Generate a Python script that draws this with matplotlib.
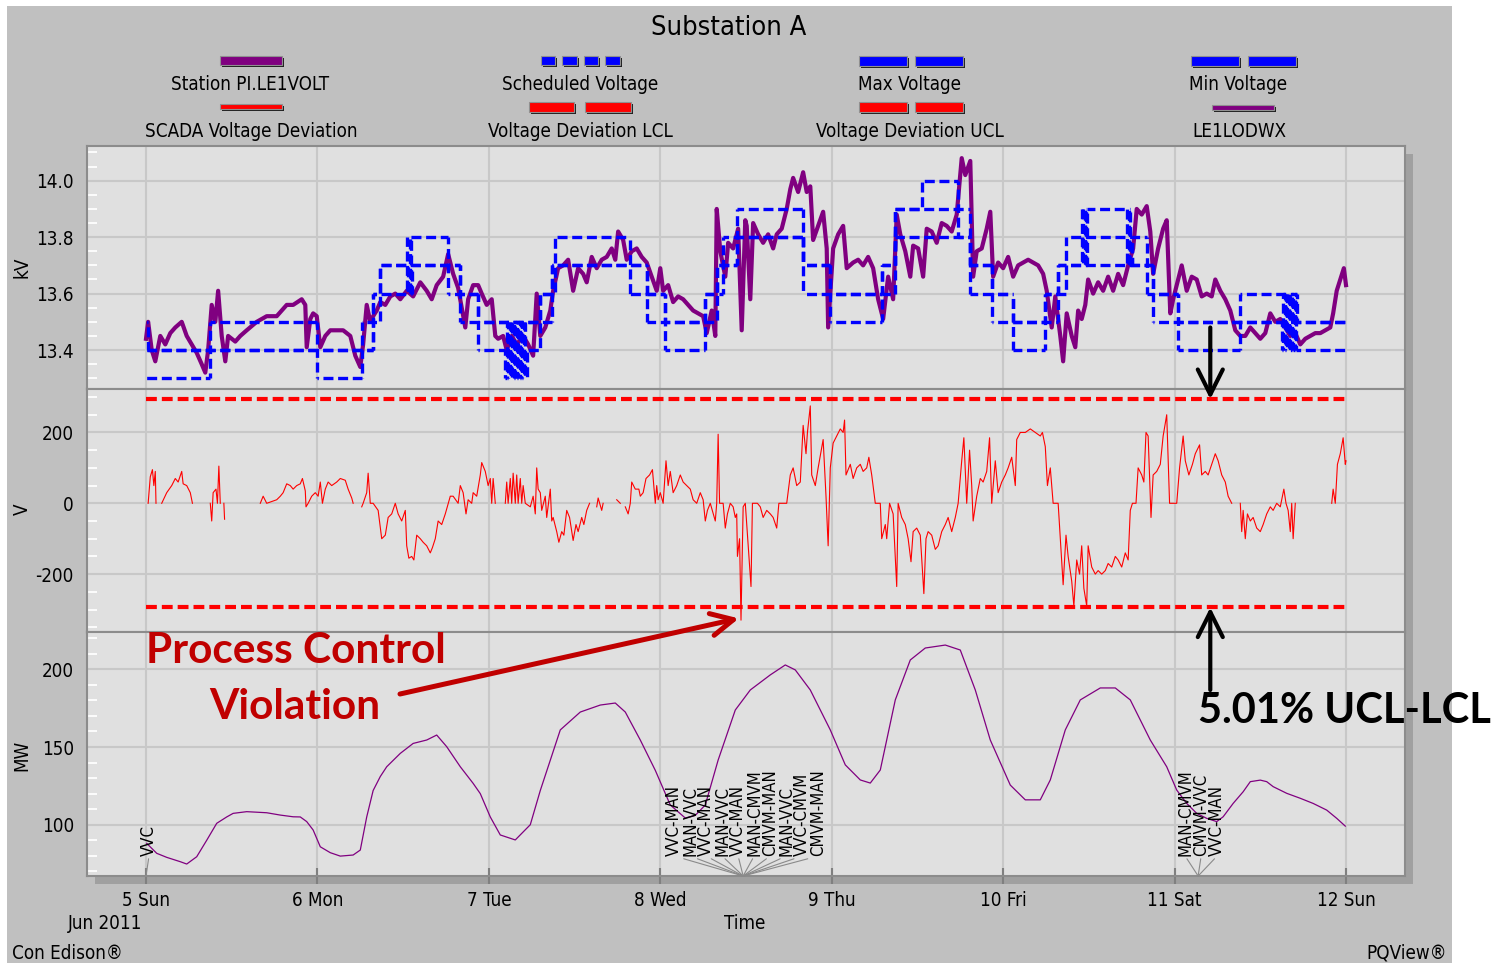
import numpy as np
import matplotlib
matplotlib.use('Agg')
import matplotlib.pyplot as plt
from matplotlib.patches import Rectangle
from matplotlib.collections import LineCollection
from matplotlib.ticker import MultipleLocator, FormatStrFormatter

plt.rcParams['font.family'] = 'DejaVu Sans'
plt.rcParams['font.stretch'] = 'condensed'
plt.rcParams['axes.unicode_minus'] = False

nan = np.nan
W, H = 1493, 963

# all series: (hours after 5 Jun 2011 00:00, value)
station_volt = [
    (0.0, 13.44), (0.3, 13.50), (0.8, 13.40), (1.3, 13.36), (2.0, 13.45), (2.7, 13.42),
    (3.4, 13.46), (4.1, 13.48), (5.0, 13.50), (5.7, 13.45), (6.4, 13.42), (7.1, 13.39),
    (7.8, 13.35), (8.3, 13.32), (8.7, 13.40), (9.2, 13.56), (9.7, 13.50), (10.1, 13.61),
    (10.6, 13.45), (11.1, 13.36), (11.5, 13.45), (12.5, 13.43), (13.2, 13.45), (14.1, 13.47),
    (15.5, 13.50), (16.9, 13.52), (18.3, 13.52), (19.7, 13.56), (20.6, 13.56), (21.8, 13.58),
    (22.3, 13.56), (22.5, 13.41), (23.0, 13.51), (23.4, 13.53), (23.9, 13.52), (24.4, 13.41),
    (25.1, 13.45), (25.8, 13.47), (26.7, 13.47), (27.6, 13.47), (28.6, 13.45), (29.3, 13.38),
    (30.0, 13.34), (30.4, 13.42), (30.9, 13.56), (31.4, 13.50), (31.8, 13.52), (32.3, 13.54),
    (32.8, 13.57), (33.5, 13.56), (34.2, 13.59), (34.9, 13.60), (35.6, 13.58), (36.5, 13.61),
    (37.4, 13.59), (38.4, 13.64), (39.3, 13.61), (40.0, 13.58), (40.7, 13.63), (41.6, 13.66),
    (42.3, 13.74), (43.0, 13.67), (43.7, 13.62), (44.2, 13.55), (44.7, 13.48), (45.1, 13.58),
    (45.8, 13.63), (46.5, 13.63), (47.0, 13.60), (47.7, 13.56), (48.4, 13.58), (48.9, 13.45),
    (49.3, 13.44), (50.0, 13.45), (50.5, 13.40), (51.2, 13.45), (51.9, 13.42), (52.8, 13.45),
    (53.5, 13.42), (54.2, 13.38), (54.7, 13.60), (55.2, 13.45), (55.9, 13.48), (56.6, 13.54),
    (57.0, 13.61), (57.7, 13.69), (58.4, 13.70), (59.1, 13.72), (59.8, 13.61), (60.5, 13.69),
    (61.2, 13.67), (61.7, 13.64), (62.4, 13.73), (63.1, 13.69), (63.8, 13.72), (64.5, 13.73),
    (65.2, 13.76), (65.7, 13.72), (66.1, 13.82), (66.8, 13.79), (67.3, 13.72), (68.0, 13.75),
    (68.7, 13.76), (69.4, 13.73), (70.1, 13.71), (70.8, 13.66), (71.5, 13.61), (72.0, 13.69),
    (72.4, 13.61), (73.1, 13.63), (73.8, 13.57), (74.5, 13.59), (75.2, 13.58), (75.9, 13.56),
    (76.6, 13.54), (77.3, 13.53), (78.0, 13.52), (78.5, 13.46), (79.2, 13.54), (79.7, 13.45),
    (79.9, 13.90), (80.4, 13.75), (81.1, 13.66), (81.5, 13.78), (82.2, 13.76), (82.9, 13.83),
    (83.4, 13.47), (83.9, 13.86), (84.1, 13.84), (84.6, 13.58), (85.0, 13.85), (85.7, 13.81),
    (86.4, 13.78), (87.1, 13.81), (87.8, 13.76), (88.3, 13.81), (89.0, 13.83), (89.7, 13.90),
    (90.2, 13.97), (90.6, 14.01), (91.3, 13.96), (92.0, 14.03), (92.5, 13.96), (93.0, 13.98),
    (93.4, 13.79), (94.1, 13.84), (94.8, 13.89), (95.3, 13.76), (95.5, 13.48), (96.2, 13.76),
    (96.9, 13.81), (97.6, 13.84), (98.1, 13.69), (99.0, 13.71), (99.7, 13.72), (100.4, 13.70),
    (101.1, 13.73), (101.8, 13.69), (102.5, 13.58), (103.2, 13.51), (103.9, 13.66), (104.6, 13.58),
    (105.1, 13.88), (105.6, 13.81), (106.3, 13.75), (107.0, 13.66), (107.4, 13.77), (108.1, 13.76),
    (108.8, 13.66), (109.3, 13.83), (110.0, 13.82), (110.7, 13.78), (111.4, 13.85), (112.1, 13.84),
    (112.8, 13.82), (113.5, 13.88), (114.2, 14.08), (114.7, 14.02), (115.4, 14.07), (115.8, 13.66),
    (116.3, 13.75), (117.0, 13.76), (117.7, 13.83), (118.2, 13.89), (118.6, 13.66), (119.3, 13.71),
    (120.0, 13.69), (120.7, 13.73), (121.4, 13.66), (122.1, 13.70), (122.8, 13.71), (123.5, 13.72),
    (124.2, 13.71), (124.9, 13.70), (125.6, 13.67), (126.1, 13.61), (126.8, 13.48), (127.3, 13.59),
    (128.0, 13.45), (128.4, 13.36), (128.9, 13.53), (129.6, 13.45), (130.1, 13.41), (130.5, 13.54),
    (131.0, 13.51), (131.5, 13.56), (131.9, 13.65), (132.6, 13.60), (133.3, 13.64), (134.0, 13.61),
    (134.7, 13.66), (135.4, 13.61), (136.1, 13.67), (136.8, 13.63), (137.5, 13.70), (138.2, 13.76),
    (138.7, 13.90), (139.4, 13.88), (140.1, 13.91), (140.6, 13.82), (141.0, 13.67), (141.7, 13.76),
    (142.4, 13.83), (142.9, 13.86), (143.4, 13.53), (143.8, 13.58), (144.3, 13.63), (145.0, 13.70),
    (145.7, 13.61), (146.4, 13.66), (147.1, 13.65), (147.8, 13.59), (148.5, 13.60), (149.2, 13.59),
    (149.7, 13.65), (150.4, 13.61), (151.1, 13.58), (151.8, 13.54), (152.5, 13.47), (153.2, 13.45),
    (153.9, 13.45), (154.6, 13.48), (155.3, 13.46), (156.0, 13.44), (156.7, 13.46), (157.4, 13.53),
    (158.1, 13.50), (158.8, 13.51), (159.5, 13.48), (160.2, 13.45), (160.9, 13.46), (161.6, 13.42),
    (162.3, 13.44), (163.0, 13.45), (163.7, 13.46), (164.4, 13.46), (165.1, 13.47), (165.8, 13.48),
    (166.2, 13.53), (166.7, 13.61), (167.2, 13.65), (167.7, 13.69), (168.0, 13.63),
]

# step values, each held until the next entry
sched_volt = [
    (0.0, 13.4), (31.8, 13.6), (32.8, 13.7), (44.0, 13.6), (46.5, 13.5), (55.2, 13.6),
    (56.8, 13.7), (70.1, 13.6), (72.7, 13.5), (78.3, 13.6), (79.9, 13.7), (82.7, 13.8),
    (92.0, 13.7), (95.8, 13.6), (103.0, 13.7), (104.9, 13.9), (113.7, 13.8), (115.4, 13.7),
    (118.4, 13.6), (121.4, 13.5), (125.9, 13.6), (127.7, 13.7), (131.0, 13.8), (138.0, 13.7),
    (141.0, 13.6), (144.5, 13.5), (168.0, 13.5),
]
max_volt = [
    (0.0, 13.5), (0.3, 13.4), (9.0, 13.5), (23.9, 13.4), (30.2, 13.5), (31.8, 13.6),
    (32.8, 13.7), (36.5, 13.8), (42.3, 13.7), (44.0, 13.6), (46.5, 13.5), (55.2, 13.6),
    (56.8, 13.7), (57.3, 13.8), (67.8, 13.7), (70.1, 13.6), (72.7, 13.5), (78.3, 13.6),
    (79.9, 13.7), (80.8, 13.8), (82.7, 13.9), (92.0, 13.7), (95.8, 13.6), (103.0, 13.7),
    (104.9, 13.9), (108.6, 14.0), (113.7, 13.9), (115.4, 13.7), (118.4, 13.6), (121.4, 13.5),
    (125.9, 13.6), (127.7, 13.7), (128.8, 13.8), (131.0, 13.9), (131.2, 13.7), (131.4, 13.9),
    (131.6, 13.7), (131.8, 13.9), (137.4, 13.7), (137.6, 13.9), (137.8, 13.7), (138.0, 13.8),
    (140.1, 13.7), (141.0, 13.6), (144.5, 13.5), (153.2, 13.6), (161.1, 13.5), (168.0, 13.5),
]
min_volt = [
    (0.0, 13.3), (9.0, 13.4), (23.9, 13.3), (30.2, 13.4), (31.8, 13.5), (32.8, 13.6),
    (36.5, 13.7), (36.7, 13.6), (36.9, 13.8), (37.1, 13.6), (37.3, 13.7), (42.3, 13.6),
    (44.0, 13.5), (46.5, 13.4), (50.3, 13.3), (50.5, 13.5), (50.7, 13.3), (50.9, 13.5),
    (51.1, 13.3), (51.3, 13.5), (51.5, 13.3), (51.7, 13.5), (51.9, 13.3), (52.1, 13.5),
    (52.3, 13.3), (52.5, 13.5), (52.7, 13.3), (52.9, 13.5), (53.1, 13.3), (53.3, 13.4),
    (55.2, 13.5), (56.8, 13.6), (57.3, 13.7), (67.8, 13.6), (70.1, 13.5), (72.7, 13.4),
    (78.3, 13.5), (79.9, 13.6), (80.8, 13.7), (82.7, 13.8), (92.0, 13.6), (95.8, 13.5),
    (103.0, 13.6), (104.9, 13.8), (115.4, 13.6), (118.4, 13.5), (121.4, 13.4), (125.9, 13.5),
    (127.7, 13.6), (128.8, 13.7), (140.1, 13.6), (141.0, 13.5), (144.5, 13.4), (153.2, 13.5),
    (159.0, 13.4), (159.2, 13.6), (159.4, 13.4), (159.6, 13.6), (159.8, 13.4), (160.0, 13.6),
    (160.2, 13.4), (160.4, 13.6), (160.6, 13.4), (160.8, 13.6), (161.0, 13.4), (168.0, 13.4),
]

# SCADA voltage deviation (V); nan marks missing data
scada_dev = [
    (0.3, 0), (0.6, 75), (0.9, 95), (1.1, 50), (1.3, 90), (1.4, 0), (1.8, nan),
    (2.2, 0), (2.9, 30), (3.6, 50), (4.1, 70), (4.5, 60), (5.0, 90), (5.2, 55), (5.7, 50),
    (6.2, 30), (6.5, 0), (7.5, nan),
    (9.0, 0), (9.2, -50), (9.4, 30), (9.8, 40), (10.0, 0), (10.2, 105), (10.4, 0), (10.6, nan),
    (10.9, 0), (11.0, -45), (11.1, nan),
    (16.0, 0), (16.4, 20), (16.9, 0), (17.6, 5), (18.3, 10), (18.8, 20), (19.2, 30), (19.7, 55),
    (20.2, 50), (20.6, 40), (21.1, 50), (21.6, 55), (21.9, 70), (22.3, 35), (22.4, -10),
    (22.7, 0), (23.2, 20), (23.7, 30), (24.1, 20), (24.4, 60), (24.7, 0), (25.1, 40), (25.5, 60),
    (26.0, 50), (26.7, 60), (27.2, 70), (27.9, 65), (28.3, 40), (28.8, 15), (29.0, 0), (29.5, nan),
    (30.2, -10), (30.4, 0), (30.9, 30), (31.1, 85), (31.4, 0), (31.8, 0), (32.5, -20),
    (33.0, -100), (33.5, -90), (33.9, -40), (34.4, -30), (34.9, 0), (35.3, -30), (35.8, -50),
    (36.3, -20), (36.5, -120), (36.8, -155), (37.2, -150), (37.5, -160), (37.9, -90),
    (38.4, -100), (38.8, -110), (39.3, -120), (39.8, -140), (40.1, -125), (40.5, -100),
    (40.9, -50), (41.4, -60), (41.9, -30), (42.6, 20), (43.0, 20), (43.7, 0), (44.0, 50),
    (44.4, 30), (44.8, -30), (45.1, 10), (45.6, 0), (45.8, 30), (46.3, 20), (46.8, 80),
    (47.0, 115), (47.5, 90), (47.9, 50), (48.2, 70), (48.4, 0), (48.6, 70), (48.9, 0), (49.5, nan),
    (50.3, 0), (50.5, 60), (50.7, 0), (51.0, 70), (51.2, 0), (51.4, 85), (51.7, 0), (51.9, 80),
    (52.1, 0), (52.4, 70), (52.6, 0), (52.8, 50), (53.1, 0), (53.8, -10), (54.2, 20),
    (54.5, -30), (54.7, 100), (54.9, 40), (55.2, 30), (55.4, -20), (55.9, 20), (56.1, -40),
    (56.6, 40), (56.8, -50), (57.0, -40), (57.5, -80), (57.8, -110), (58.2, -80), (58.5, -90),
    (58.9, -20), (59.3, -40), (59.6, -80), (59.8, -105), (60.2, -60), (60.5, -80), (61.0, -40),
    (61.3, -60), (61.7, -20), (62.1, 0), (62.5, nan),
    (63.1, -10), (63.3, 15), (63.8, -20), (64.0, 0), (64.5, nan),
    (65.9, 10), (66.4, 0), (66.7, nan),
    (67.1, -10), (67.5, -30), (67.8, 0), (68.0, 60), (68.5, 40), (69.0, 40), (69.2, 20),
    (69.6, 30), (70.0, 70), (70.5, 80), (70.9, 95), (71.3, 0), (71.5, 50), (71.7, 10),
    (72.0, 30), (72.4, 0), (72.8, 120), (73.1, 50), (73.4, 90), (73.8, 30), (74.3, 50),
    (74.8, 80), (75.2, 60), (75.7, 50), (76.2, 40), (76.6, 10), (77.1, 0), (77.6, 30),
    (78.0, 10), (78.3, -50), (78.6, -20), (79.0, 0), (79.7, -50), (79.9, 0), (80.1, 195),
    (80.3, 0), (80.8, 0), (81.1, -70), (81.4, -30), (81.8, 0), (82.2, -10), (82.5, -40),
    (82.7, -30), (82.8, -150), (83.1, -100), (83.3, -330), (83.6, -10), (83.9, 0), (84.7, -235),
    (84.9, 0), (85.6, 0), (86.0, -10), (86.4, -40), (86.9, -20), (87.4, -30), (87.8, -40),
    (88.3, -70), (88.6, 0), (89.7, 0), (90.2, 80), (90.6, 100), (91.1, 50), (91.6, 60),
    (92.0, 220), (92.4, 140), (92.6, 200), (93.0, 275), (93.2, 80), (93.7, 50), (94.1, 100),
    (94.8, 180), (95.2, 20), (95.5, -120), (95.8, 100), (96.2, 170), (96.7, 190), (97.2, 210),
    (97.6, 200), (97.8, 235), (98.0, 80), (98.6, 110), (99.0, 70), (99.5, 100), (100.0, 110),
    (100.4, 90), (100.9, 100), (101.2, 130), (101.6, 80), (102.1, 0), (102.8, 0), (103.0, -100),
    (103.5, -60), (103.7, -100), (104.1, 0), (104.6, -30), (105.1, -235), (105.3, 0),
    (105.8, -40), (106.3, -60), (106.7, -100), (107.1, -165), (107.4, -80), (107.9, -70),
    (108.4, -90), (108.9, -255), (109.2, -100), (109.5, -80), (110.0, -90), (110.5, -130),
    (110.9, -120), (111.4, -80), (111.9, -60), (112.3, -40), (112.8, -80), (113.3, -40),
    (113.7, 0), (114.2, 120), (114.5, 185), (114.9, 0), (115.3, 150), (115.6, 50), (115.8, -50),
    (116.3, 20), (116.8, 70), (117.2, 60), (117.7, 90), (118.1, 185), (118.4, 0), (118.9, 120),
    (119.3, 30), (119.8, 60), (120.3, 80), (120.7, 100), (121.2, 130), (121.7, 50), (121.9, 180),
    (122.4, 200), (123.1, 200), (123.8, 210), (124.5, 200), (125.2, 190), (125.5, 200),
    (125.9, 160), (126.2, 50), (126.6, 100), (127.0, 0), (127.7, 0), (128.0, -100),
    (128.4, -230), (128.8, -90), (129.1, -150), (129.6, -220), (129.9, -290), (130.3, -160),
    (130.7, -200), (131.0, -120), (131.3, -240), (131.7, -290), (131.9, -120), (132.4, -180),
    (132.9, -200), (133.3, -190), (133.8, -200), (134.3, -190), (134.7, -170), (135.2, -180),
    (135.7, -150), (136.1, -160), (136.6, -180), (137.1, -140), (137.5, -160), (137.8, -20),
    (138.1, 0), (138.6, 0), (138.9, 100), (139.4, 80), (139.7, 60), (140.0, 200), (140.3, 190),
    (140.7, -40), (141.0, 80), (141.5, 90), (142.0, 110), (142.4, 190), (142.9, 250),
    (143.3, 0), (144.3, 0), (144.7, 100), (145.2, 190), (145.5, 120), (146.0, 80), (146.5, 110),
    (146.9, 140), (147.5, 165), (147.8, 80), (148.3, 90), (148.7, 80), (149.2, 110),
    (149.7, 140), (150.1, 120), (150.6, 80), (151.1, 60), (151.5, 20), (152.0, 0), (152.6, nan),
    (153.2, 0), (153.4, -80), (153.6, -20), (153.9, -100), (154.2, -30), (154.6, -50),
    (155.0, -40), (155.5, -70), (156.0, -80), (156.4, -60), (156.9, -30), (157.4, -10),
    (157.8, -20), (158.3, 0), (158.8, -10), (159.3, 40), (159.6, 0), (159.9, -20), (160.2, -80),
    (160.4, 0), (160.6, -100), (160.9, 0), (161.5, nan),
    (166.0, 0), (166.2, 40), (166.5, 0), (166.8, 110), (167.2, 140), (167.6, 185),
    (167.9, 110), (168.0, 120),
]
dev_ucl = 294
dev_lcl = -294

# LE1LODWX feeder load (MW)
load_mw = [
    (0.1, 88.0), (1.5, 81.6), (2.9, 79.0), (4.8, 76.2), (5.7, 74.7), (7.1, 79.4), (8.5, 90.0),
    (9.9, 100.9), (11.3, 105.0), (12.2, 107.3), (14.1, 108.4), (16.9, 107.7), (18.8, 106.2),
    (20.6, 105.1), (21.6, 105.0), (22.5, 102.0), (23.4, 96.6), (24.4, 85.8), (25.8, 82.0),
    (27.2, 79.8), (29.0, 80.5), (30.0, 83.7), (30.9, 105.0), (31.8, 122.0), (32.8, 131.0),
    (33.7, 137.3), (35.6, 145.9), (37.4, 152.3), (39.3, 154.5), (40.7, 157.7), (42.1, 150.2),
    (44.0, 137.3), (45.8, 126.6), (46.8, 120.0), (48.2, 105.0), (49.6, 93.4), (51.7, 90.2),
    (53.8, 100.0), (55.2, 122.0), (58.0, 161.0), (60.8, 172.5), (63.6, 177.0), (65.7, 178.3),
    (67.1, 172.5), (69.2, 154.5), (71.3, 135.0), (73.4, 112.7), (75.5, 104.3), (76.9, 106.0),
    (78.3, 112.7), (80.1, 141.6), (82.5, 173.8), (84.6, 186.7), (87.4, 196.4), (89.5, 202.8),
    (90.9, 199.6), (93.0, 186.7), (95.8, 161.0), (97.9, 138.5), (100.0, 128.8), (101.4, 126.8),
    (102.8, 135.2), (104.9, 180.3), (107.0, 206.0), (109.1, 213.7), (111.9, 215.6),
    (114.0, 212.4), (116.1, 186.7), (118.2, 154.5), (121.0, 125.5), (123.1, 116.0),
    (125.2, 116.0), (126.6, 128.8), (128.7, 161.0), (130.8, 180.3), (133.6, 188.0),
    (135.7, 188.0), (137.8, 180.3), (140.6, 154.5), (142.9, 137.3), (144.3, 122.3),
    (145.7, 113.7), (147.1, 107.3), (148.5, 104.1), (149.9, 102.0), (150.8, 105.1),
    (152.2, 113.7), (153.6, 121.2), (154.6, 127.7), (156.0, 128.7), (156.9, 127.7),
    (157.8, 124.5), (159.7, 120.2), (161.6, 117.0), (163.4, 113.7), (165.3, 109.4),
    (166.7, 104.1), (167.9, 99.1),
]

# control mode changes logged on the load trace
mode_events = [
    (0.0, ['VVC']),
    (83.6, ['VVC-MAN', 'MAN-VVC', 'VVC-MAN', 'MAN-VVC', 'VVC-MAN', 'MAN-CMVM',
            'CMVM-MAN', 'MAN-VVC', 'VVC-CMVM', 'CMVM-MAN']),
    (147.3, ['MAN-CMVM', 'CMVM-VVC', 'VVC-MAN']),
]

day_ticks = [0, 24, 48, 72, 96, 120, 144, 168]
day_labels = ['5 Sun', '6 Mon', '7 Tue', '8 Wed', '9 Thu', '10 Fri', '11 Sat', '12 Sun']

PURPLE = '#800080'
BLUE = '#0000ff'
RED = '#ff0000'
DARKRED = '#c00000'


def px(x, y):
    return x / W, 1 - y / H


def series(pairs):
    a = np.array(pairs, dtype=float)
    return a[:, 0], a[:, 1]


def dashed_steps(ax, steps, color, lw, pattern):
    # step line split into pieces whose dash phase is pinned to screen x,
    # so limits that share a level keep one clean dash pattern
    t, v = series(steps)
    period = sum(pattern)
    to_lw = 72 / fig.dpi / lw
    segs, styles = [], []
    for i in range(len(t) - 1):
        x0, _ = ax.transData.transform((t[i], v[i]))
        segs.append([(t[i], v[i]), (t[i + 1], v[i])])
        styles.append(((x0 * to_lw) % period, pattern))
        if v[i + 1] != v[i]:
            lo, hi = sorted((v[i], v[i + 1]))
            x1, _ = ax.transData.transform((t[i + 1], lo))
            segs.append([(t[i + 1], lo), (t[i + 1], hi)])
            styles.append(((x1 * to_lw) % period, pattern))
    ax.add_collection(LineCollection(segs, colors=color, linewidths=lw,
                                     linestyles=styles, zorder=4))


fig = plt.figure(figsize=(W / 100, H / 100), dpi=100, facecolor='white')

# grey panel and the drop shadow behind the plot area
fig.add_artist(Rectangle(px(7, 963), 1445 / W, 957 / H, transform=fig.transFigure,
                         facecolor='#c0c0c0', edgecolor='none', zorder=-2))
fig.add_artist(Rectangle(px(95, 884), 1318 / W, 730 / H, transform=fig.transFigure,
                         facecolor='#a0a0a0', edgecolor='none', zorder=-1))

left, width = 87 / W, 1318 / W
ax1 = fig.add_axes([left, 1 - 389 / H, width, 243 / H])
ax2 = fig.add_axes([left, 1 - 632 / H, width, 243 / H])
ax3 = fig.add_axes([left, 1 - 876 / H, width, 244 / H])

for ax in (ax1, ax2, ax3):
    ax.set_facecolor('#e0e0e0')
    ax.set_xlim(-8.26, 176.26)
    ax.set_xticks(day_ticks)
    ax.set_axisbelow(True)
    ax.grid(True, which='major', color='#c8c8c8', lw=1.5)
    for s in ax.spines.values():
        s.set_color('#8c8c8c')
        s.set_linewidth(1.5)
    ax.tick_params(axis='y', which='major', length=0, pad=9.4, labelsize=13.5)
    ax.tick_params(axis='y', which='minor', direction='in', length=7, width=1.3,
                   color='white', left=True, right=False)

ax1.tick_params(axis='x', length=0, labelbottom=False)
ax2.tick_params(axis='x', length=0, labelbottom=False)
ax3.set_xticklabels(day_labels)
ax3.tick_params(axis='x', direction='inout', length=11, width=1.5, color='#808080',
                pad=5, labelsize=13.5)

# voltage panel
ax1.set_ylim(13.262, 14.123)
ax1.set_yticks([13.4, 13.6, 13.8, 14.0])
ax1.yaxis.set_major_formatter(FormatStrFormatter('%.1f'))
ax1.yaxis.set_minor_locator(MultipleLocator(0.05))
h, v = series(station_volt)
ax1.plot(h, v, color=PURPLE, lw=3, solid_joinstyle='round', zorder=3)
for steps in (sched_volt, max_volt, min_volt):
    dashed_steps(ax1, steps, BLUE, 2.4, (3.0, 1.4))

# deviation panel
h, v = series(scada_dev)
ax2.plot(h, v, color=RED, lw=0.8, zorder=3)
ax2.plot([0, 168], [dev_ucl, dev_ucl], color=RED, lw=3, linestyle=(0, (2.6, 1.2)), zorder=4)
ax2.plot([0, 168], [dev_lcl, dev_lcl], color=RED, lw=3, linestyle=(0, (2.6, 1.2)), zorder=4)
ax2.set_ylim(-363.4, 322.7)
ax2.set_yticks([-200, 0, 200])
ax2.yaxis.set_minor_locator(MultipleLocator(50))

# load panel
h, v = series(load_mw)
ax3.plot(h, v, color=PURPLE, lw=0.9, zorder=3)
ax3.set_ylim(67.0, 224.0)
ax3.set_yticks([100, 150, 200])
ax3.yaxis.set_minor_locator(MultipleLocator(10))

for t, names in mode_events:
    n = len(names)
    for i, name in enumerate(names):
        dx = (3 + (i - (n - 1) / 2) * 16) * 0.72
        ax3.annotate(name, xy=(t, 67.0), xytext=(dx, 14.4), textcoords='offset points',
                     rotation=90, ha='center', va='bottom', fontsize=12, zorder=5,
                     arrowprops=dict(arrowstyle='-', color='#8a8a8a', lw=0.8,
                                     shrinkA=0, shrinkB=0, relpos=(0.5, 0)))

# axis labels and captions
fig.text(*px(729, 28), 'Substation A', ha='center', va='center', fontsize=19.5)
fig.text(*px(22, 267), 'kV', rotation=90, ha='center', va='center', fontsize=13.5)
fig.text(*px(22, 509), 'V', rotation=90, ha='center', va='center', fontsize=13.5)
fig.text(*px(22, 755), 'MW', rotation=90, ha='center', va='center', fontsize=13.5)
fig.text(*px(105, 923), 'Jun 2011', ha='center', va='center', fontsize=13.5)
fig.text(*px(745, 923), 'Time', ha='center', va='center', fontsize=13.5)
fig.text(*px(12, 953), 'Con Edison®', ha='left', va='center', fontsize=13.5)
fig.text(*px(1447, 953), 'PQView®', ha='right', va='center', fontsize=13.5)

# legend: label, centre x, label y, swatch spans, swatch top/bottom, colour
legend_items = [
    ('Station PI.LE1VOLT', 250, 85, [(220, 282)], (56, 65), PURPLE),
    ('Scheduled Voltage', 580, 85, [(541, 555), (562, 577), (584, 598), (605, 620)], (56, 65), BLUE),
    ('Max Voltage', 910, 85, [(859, 907), (915, 963)], (56, 66), BLUE),
    ('Min Voltage', 1238, 85, [(1191, 1239), (1248, 1296)], (56, 66), BLUE),
    ('SCADA Voltage Deviation', 251, 131, [(220, 282)], (104, 109), RED),
    ('Voltage Deviation LCL', 580, 131, [(529, 574), (585, 631)], (102, 112), RED),
    ('Voltage Deviation UCL', 910, 131, [(859, 907), (915, 963)], (102, 112), RED),
    ('LE1LODWX', 1239, 131, [(1212, 1274)], (105, 110), PURPLE),
]
for label, cx, ly, spans, (y0, y1), color in legend_items:
    for x0, x1 in spans:
        fig.add_artist(Rectangle(px(x0 + 2, y1 + 2), (x1 - x0) / W, (y1 - y0) / H,
                                 transform=fig.transFigure, facecolor='#202020',
                                 edgecolor='none'))
        fig.add_artist(Rectangle(px(x0, y1), (x1 - x0) / W, (y1 - y0) / H,
                                 transform=fig.transFigure, facecolor=color,
                                 edgecolor='#909090', lw=0.8))
    fig.text(*px(cx, ly), label, ha='center', va='center', fontsize=13.5)

# callouts
bold = dict(family='Lato', weight='bold', stretch='normal', ha='center', va='center')
fig.text(*px(296, 651), 'Process Control', color=DARKRED, fontsize=30.5, **bold)
fig.text(*px(295, 707), 'Violation', color=DARKRED, fontsize=30.5, **bold)
fig.text(*px(1344, 711), '5.01% UCL-LCL', color='black', fontsize=30, **bold)

ax3.annotate('', xy=(83.0, -325), xycoords=ax2.transData,
             xytext=(400, H - 694), textcoords='figure pixels',
             arrowprops=dict(arrowstyle='->,head_length=0.4,head_width=0.2', color=DARKRED,
                             lw=3.6, mutation_scale=40, shrinkA=0, shrinkB=0))
ax2.annotate('', xy=(149.0, dev_ucl), xycoords='data',
             xytext=(149.0, 13.48), textcoords=ax1.transData,
             arrowprops=dict(arrowstyle='->,head_length=0.4,head_width=0.2', color='black',
                             lw=3, mutation_scale=45, shrinkA=0, shrinkB=0))
ax3.annotate('', xy=(149.0, dev_lcl), xycoords=ax2.transData,
             xytext=(149.0, 186.7), textcoords='data',
             arrowprops=dict(arrowstyle='->,head_length=0.4,head_width=0.2', color='black',
                             lw=3, mutation_scale=45, shrinkA=0, shrinkB=0))

fig.savefig('out.png', dpi=100)
